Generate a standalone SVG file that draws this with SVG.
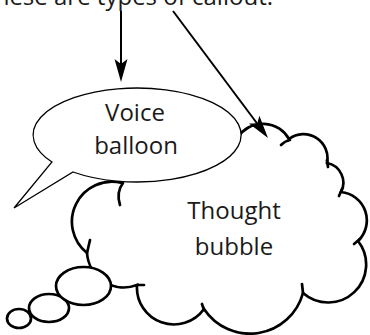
<svg xmlns="http://www.w3.org/2000/svg" width="370" height="335" viewBox="0 0 370 335">
<style>
text{font-family:"Open Sans","Noto Sans","DejaVu Sans",sans-serif;font-size:24px;fill:#1a1a1a;text-anchor:middle}
.cloud{fill:#fff;stroke:#000;stroke-width:2.7;stroke-linejoin:miter;stroke-linecap:round}
.hook{fill:none;stroke:#000;stroke-width:2.7;stroke-linecap:round}
.balloon{fill:#fff;stroke:#000;stroke-width:1.3;stroke-linejoin:miter}
.conn{fill:none;stroke:#000;stroke-width:2;marker-end:url(#ah)}
</style>
<defs>
<marker id="ah" viewBox="0 0 23 13" markerUnits="userSpaceOnUse" markerWidth="23" markerHeight="13" refX="13" refY="6.5" orient="auto" overflow="visible">
<path d="M23,6.5 L0,0 L5,6.5 L0,13 Z" fill="#000"/>
</marker>
</defs>
<text id="title" x="273" y="5" style="text-anchor:end">These are types of callout.</text>
<g id="thought">
<path class="cloud" d="M122,183 L125,165 L238,137 A30,30 0 0 1 289,139 A24,24 0 0 1 327,163 A20,20 0 0 1 341,192 A28.5,28.5 0 0 1 358,241 A38,38 0 0 1 303,293 A55,55 0 0 1 204,309 A37,37 0 0 1 137,285 A37,37 0 0 1 87,253 A40,40 0 0 1 122,183 Z"/>
<path class="hook" d="M123,183 Q116,192 120,205"/>
<path class="hook" d="M290,140 Q285,141 281,145"/>
<path class="hook" d="M327,160 L328,167"/>
<path class="hook" d="M342,189 L339,196"/>
<path class="hook" d="M360,239 L354,244"/>
<path class="hook" d="M303,293 L302,284"/>
<path class="hook" d="M204,310 L202,304"/>
<path class="hook" d="M137,285 L144,285"/>
<path class="hook" d="M87,253 L90,240"/>
<ellipse class="cloud" cx="19" cy="318.5" rx="12" ry="9.5"/>
<ellipse class="cloud" cx="49" cy="308" rx="20" ry="14"/>
<ellipse class="cloud" cx="83.5" cy="286" rx="27.5" ry="19"/>
<text x="234" y="219">Thought</text>
<text x="234" y="255">bubble</text>
</g>
<g id="voice">
<path class="balloon" d="M73,172 A104,47 0 1 0 52,162 L14,208 Z"/>
<text x="135" y="121">Voice</text>
<text x="136" y="154">balloon</text>
</g>
<g id="connectors">
<path class="conn" d="M121,11 L121,72"/>
<path class="conn" d="M173,11 L262,130"/>
</g>
</svg>
